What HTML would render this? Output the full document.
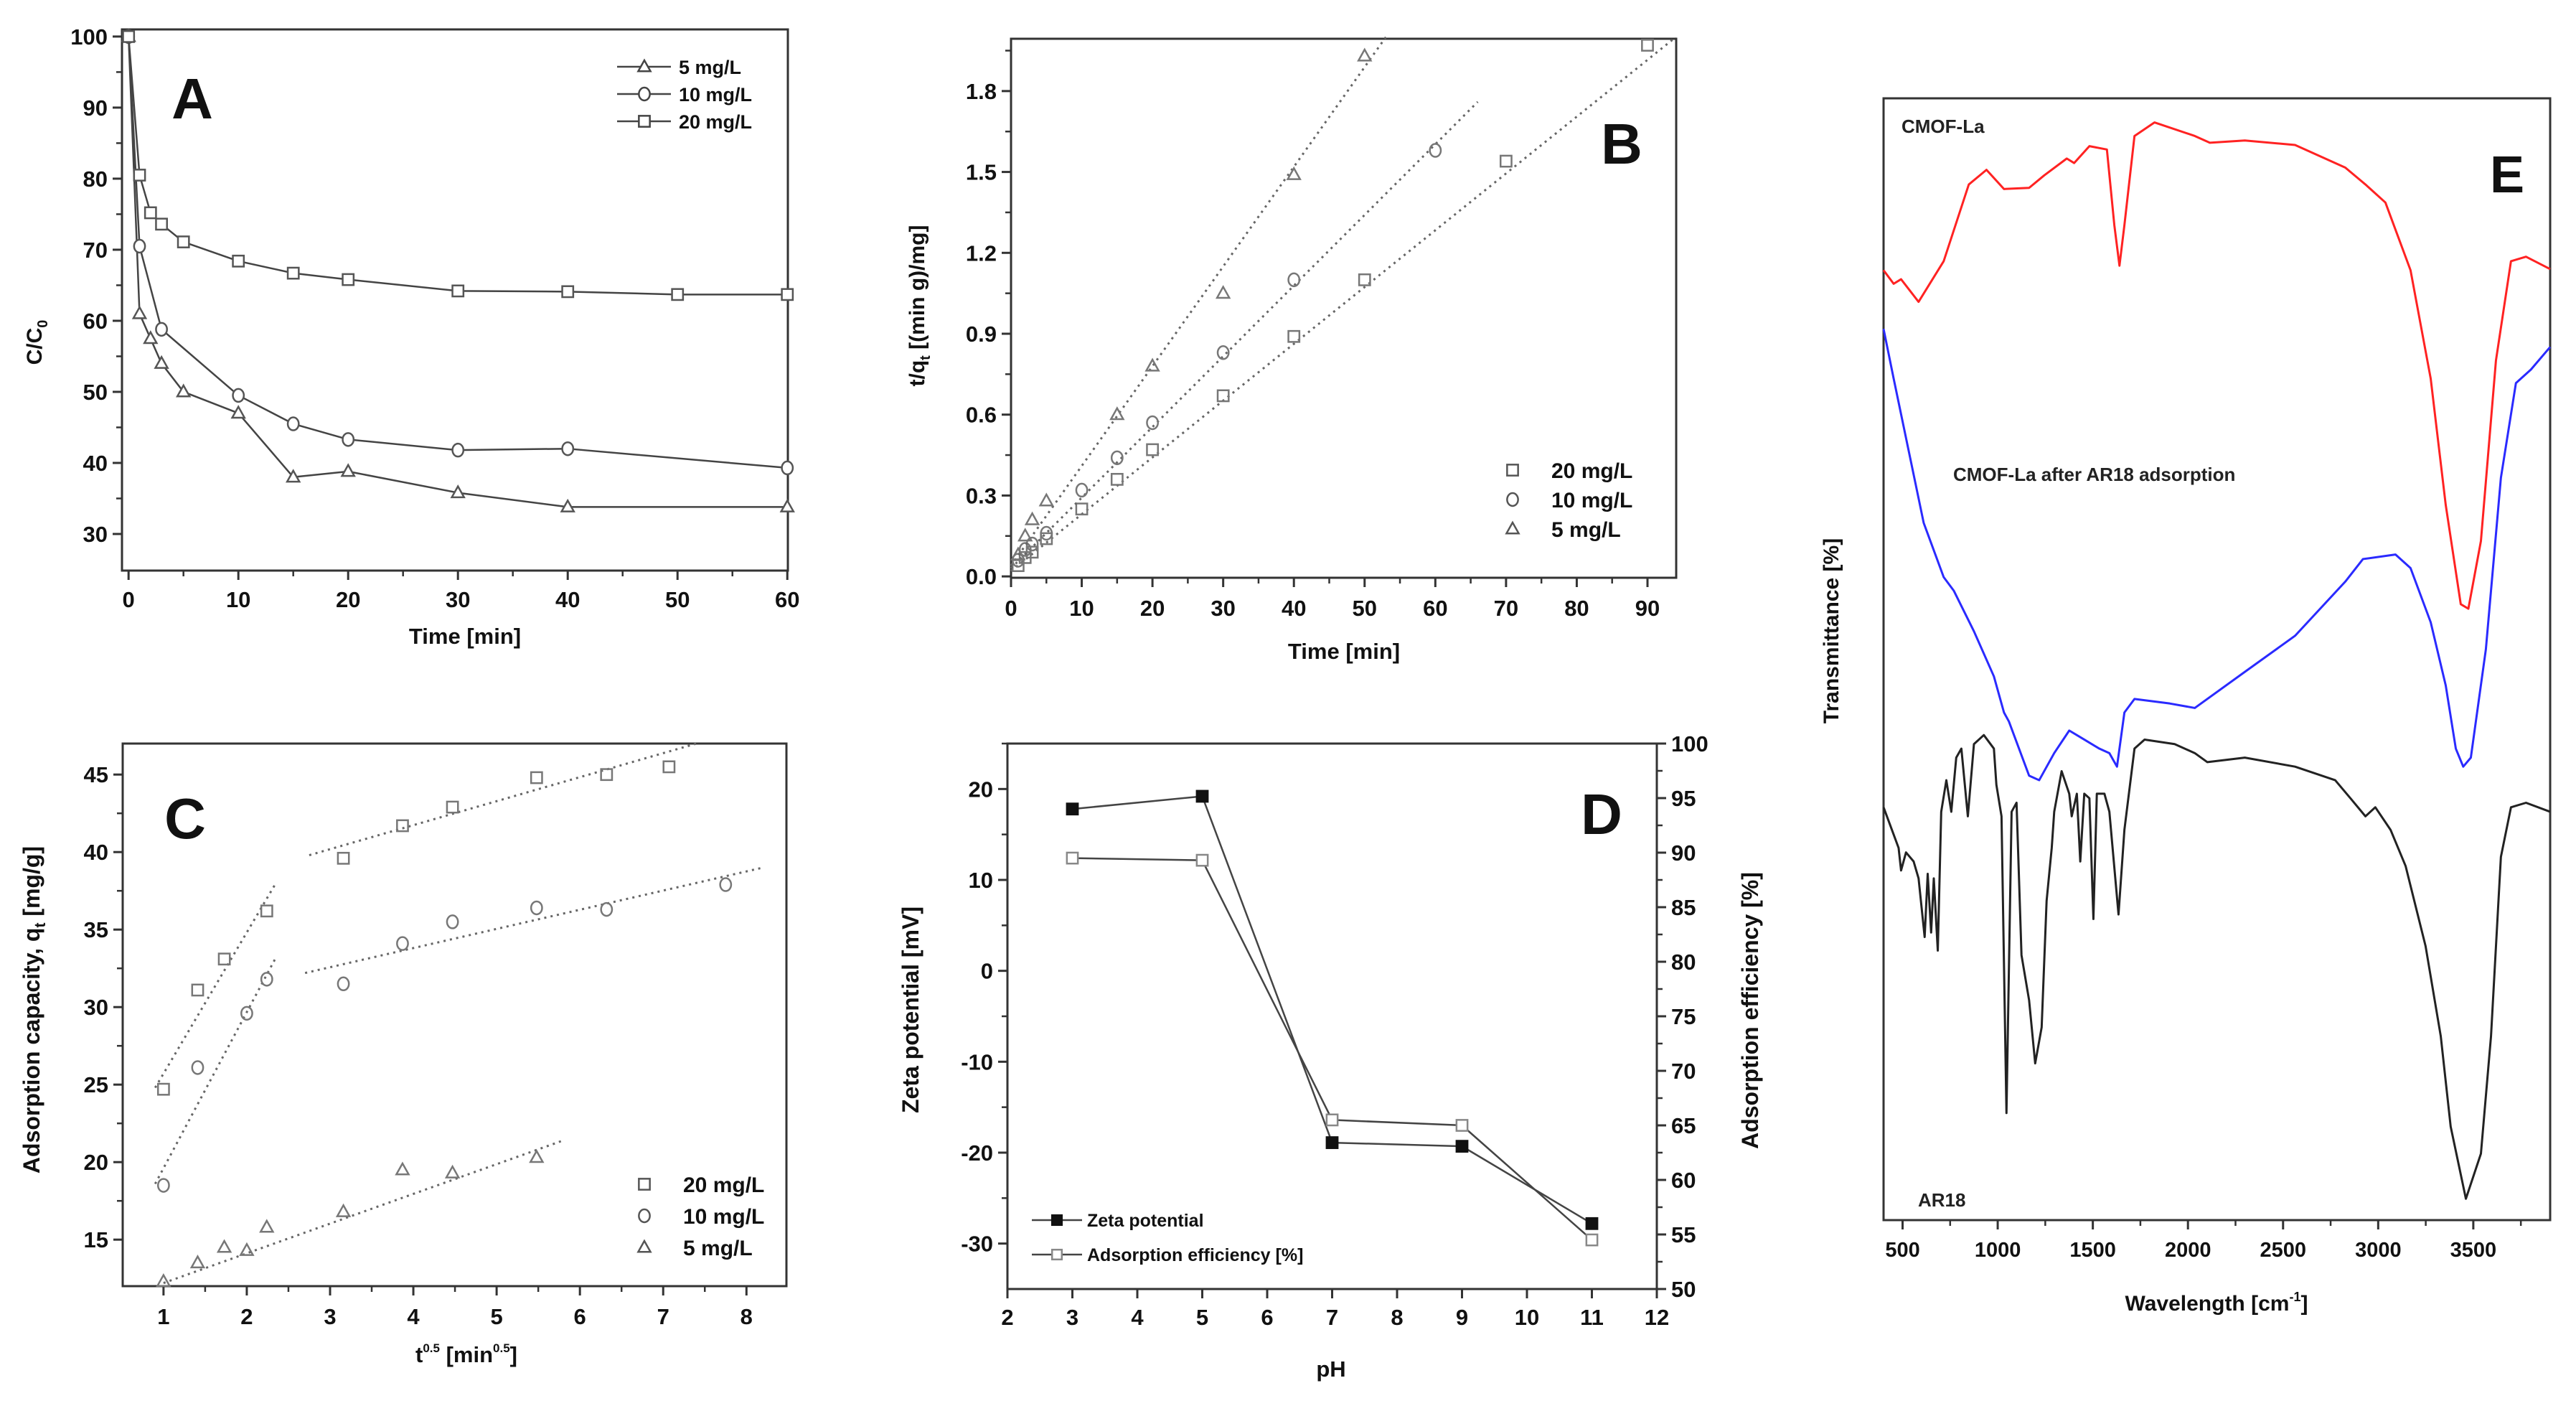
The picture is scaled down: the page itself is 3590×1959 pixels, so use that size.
<!DOCTYPE html>
<html><head><meta charset="utf-8"><style>
html,body{margin:0;padding:0;background:#fff;}
svg{display:block;font-family:"Liberation Sans",Arial,sans-serif;}
</style></head><body>
<svg id="fig" width="3590" height="1959" viewBox="0 0 3590 1959" xmlns="http://www.w3.org/2000/svg"></svg>
<script>
// ---------- Panel A data ----------
const aT5=[0,1,2,3,5,10,15,20,30,40,60];
const aY5=[100,61,57.5,54,50,47,38,38.8,35.8,33.8,33.8];
const aT10=[0,1,3,10,15,20,30,40,60];
const aY10=[100,70.5,58.8,49.5,45.5,43.3,41.8,42,39.3];
const aT20=[0,1,2,3,5,10,15,20,30,40,50,60];
const aY20=[100,80.5,75.2,73.6,71.1,68.4,66.7,65.8,64.2,64.1,63.7,63.7];
const aXTicks=[0,10,20,30,40,50,60];
const aYTicks=[30,40,50,60,70,80,90,100];
// ---------- Panel B data ----------
const bT5=[1,2,3,5,15,20,30,40,50];
const bY5=[0.08,0.15,0.21,0.28,0.60,0.78,1.05,1.49,1.93];
const bT10=[1,2,3,5,10,15,20,30,40,60];
const bY10=[0.06,0.10,0.12,0.16,0.32,0.44,0.57,0.83,1.10,1.58];
const bT20=[1,2,3,5,10,15,20,30,40,50,70,90];
const bY20=[0.04,0.07,0.09,0.14,0.25,0.36,0.47,0.67,0.89,1.10,1.54,1.97];
const bFit5=[[0,0.04],[53,2.0]];
const bFit10=[[0,0.03],[66,1.76]];
const bFit20=[[0,0.02],[94,2.0]];
const bXTicks=[0,10,20,30,40,50,60,70,80,90];
const bYTicks=[0,0.3,0.6,0.9,1.2,1.5,1.8];
// ---------- Panel C data ----------
const cX20=[1,1.41,1.73,2.24,3.16,3.87,4.47,5.48,6.32,7.07];
const cY20=[24.7,31.1,33.1,36.2,39.6,41.7,42.9,44.8,45.0,45.5];
const cX10=[1,1.41,2,2.24,3.16,3.87,4.47,5.48,6.32,7.75];
const cY10=[18.5,26.1,29.6,31.8,31.5,34.1,35.5,36.4,36.3,37.9];
const cX5=[1,1.41,1.73,2,2.24,3.16,3.87,4.47,5.48];
const cY5=[12.3,13.5,14.5,14.3,15.8,16.8,19.5,19.3,20.3];
const cFits=[[[0.9,24.8],[2.35,38]],[[2.75,39.8],[7.4,47]],[[0.9,18.6],[2.35,33.2]],[[2.7,32.2],[8.2,39]],[[1,12.2],[5.8,21.4]]];
const cXTicks=[1,2,3,4,5,6,7,8];
const cYTicks=[15,20,25,30,35,40,45];
// ---------- Panel D data ----------
const dPH=[3,5,7,9,11];
const dZeta=[17.8,19.2,-18.9,-19.3,-27.8];
const dEff=[89.5,89.3,65.5,65,54.5];
const dXTicks=[2,3,4,5,6,7,8,9,10,11,12];
const dYTicks=[-30,-20,-10,0,10,20];
const dRTicks=[50,55,60,65,70,75,80,85,90,95,100];
// ---------- Panel E data ----------
const eRedW=[400,453,492,584,716,848,941,1033,1165,1244,1363,1402,1482,1574,1613,1640,1666,1719,1824,2036,2115,2299,2563,2827,2933,3038,3170,3276,3355,3434,3474,3540,3619,3698,3777,3904];
const eRedT=[84.7,83.5,83.9,81.9,85.5,92.3,93.6,91.9,92.0,93.1,94.6,94.2,95.7,95.4,88.7,85.1,88.7,96.6,97.8,96.6,96.0,96.2,95.8,93.8,92.3,90.7,84.7,75.1,63.9,55.1,54.7,60.7,76.7,85.5,85.9,84.8];
const eBlueW=[400,453,532,611,716,769,875,980,1033,1059,1165,1218,1297,1376,1455,1534,1587,1627,1666,1719,1904,2036,2299,2563,2827,2920,3091,3170,3276,3355,3408,3447,3487,3566,3645,3724,3803,3904];
const eBlueT=[79.5,75.1,68.7,62.3,57.5,56.3,52.7,48.7,45.5,44.7,39.9,39.5,41.9,43.9,43.1,42.3,41.9,40.7,45.5,46.7,46.3,45.9,49.1,52.3,57.1,59.1,59.5,58.3,53.5,47.9,42.3,40.7,41.5,51.1,66.3,74.7,75.9,77.9];
const eBlackW=[400,479,492,518,558,584,616,632,650,664,685,703,730,756,782,809,843,875,927,980,993,1020,1046,1073,1099,1125,1165,1197,1231,1257,1284,1297,1336,1376,1389,1416,1434,1455,1482,1503,1521,1561,1587,1635,1666,1719,1772,1930,2036,2102,2299,2563,2774,2854,2933,2985,3065,3144,3249,3329,3381,3461,3540,3593,3645,3698,3777,3904];
const eBlackT=[37.1,33.5,31.5,33.1,32.3,30.8,25.6,31.2,26.0,30.8,24.4,36.7,39.5,36.7,41.5,42.3,36.3,42.7,43.5,42.3,39.1,36.3,10.0,36.7,37.5,24.0,20.0,14.4,17.6,28.8,33.5,36.7,40.3,38.3,36.3,38.3,32.3,38.3,37.9,27.2,38.3,38.3,36.7,27.6,35.1,42.3,43.1,42.7,41.9,41.1,41.5,40.7,39.5,37.9,36.3,37.1,35.1,31.9,24.8,16.8,8.8,2.4,6.4,16.8,32.7,37.1,37.5,36.7];
const eXTicks=[500,1000,1500,2000,2500,3000,3500];

const NS='http://www.w3.org/2000/svg';
const svg=document.getElementById('fig');
function el(tag,attrs,parent){const e=document.createElementNS(NS,tag);for(const k in attrs)e.setAttribute(k,attrs[k]);(parent||svg).appendChild(e);return e;}
function lin(d0,d1,r0,r1){return v=>r0+(v-d0)*(r1-r0)/(d1-d0);}
function txt(s,x,y,size,anchor,parent,extra){const t=el('text',Object.assign({x:x,y:y,'font-size':size,'font-weight':'bold','text-anchor':anchor||'middle',fill:'#111'},extra||{}),parent);t.textContent=s;return t;}
function box(g,x0,y0,x1,y1){const r=el('rect',{x:x0,y:y0,width:x1-x0,height:y1-y0,fill:'none',stroke:'#333','stroke-width':3},g);}
function xAxis(g,sx,yb,ticks,minorStep,fmt,size,lblY,xmax){
  const ax=el('g',{},g);
  ticks.forEach(v=>{el('line',{x1:sx(v),x2:sx(v),y1:yb,y2:yb+13,stroke:'#333','stroke-width':3},ax);
    const t=txt(fmt(v),sx(v),lblY,size,'middle',ax);
    if(minorStep){const m=v+minorStep;if(m<=xmax)el('line',{x1:sx(m),x2:sx(m),y1:yb,y2:yb+8,stroke:'#333','stroke-width':2.5},ax);}
  });
}
function yAxis(g,sy,xl,ticks,minorStep,fmt,size,right,dom){
  const ax=el('g',{},g);
  const dir=right?1:-1;
  ticks.forEach(v=>{el('line',{x1:xl,x2:xl+dir*13,y1:sy(v),y2:sy(v),stroke:'#333','stroke-width':3},ax);
    const t=txt(fmt(v),xl+dir*20,sy(v)+11,size,right?'start':'end',ax);
    if(minorStep){const m=v+minorStep;if(m<=dom[1])el('line',{x1:xl,x2:xl+dir*8,y1:sy(m),y2:sy(m),stroke:'#333','stroke-width':2.5},ax);}
  });
}
function marker(g,type,x,y,s,fill,stroke){
  let m;
  if(type==='tri')m=el('polygon',{points:`${x},${y-s} ${x-s*0.95},${y+s*0.7} ${x+s*0.95},${y+s*0.7}`,fill:fill,stroke:stroke,'stroke-width':2.5},g);
  else if(type==='circ')m=el('ellipse',{cx:x,cy:y,rx:s*0.85,ry:s,fill:fill,stroke:stroke,'stroke-width':2.5},g);
  else m=el('rect',{x:x-s*0.85,y:y-s*0.85,width:s*1.7,height:s*1.7,fill:fill,stroke:stroke,'stroke-width':2.5},g);
  return m;
}
function poly(g,xs,ys,sx,sy,stroke,w,dash){return el('polyline',{points:xs.map((v,i)=>sx(v)+','+sy(ys[i])).join(' '),fill:'none',stroke:stroke,'stroke-width':w,'stroke-dasharray':dash||'none','stroke-linejoin':'round'},g);}
function rotLabel(g,s,x,y,size,name){const t=txt(s,x,y,size,'middle',g,{transform:`rotate(-90 ${x} ${y})`});return t;}

// ================= Panel A =================
(function(){
 const g=el('g',{});
 const X0=170,X1=1098,Y0=41,Y1=795;
 const sx=lin(-0.6,60.05,X0,X1), sy=lin(24.85,101,Y1,Y0);
 box(g,X0,Y0,X1,Y1);
 xAxis(g,sx,Y1,aXTicks,5,v=>String(v),31,846,60.05);
 yAxis(g,sy,X0,aYTicks,5,v=>String(v),31,false,[24.85,101]);
 const yl=el('text',{x:58,y:477,'font-size':30,'font-weight':'bold','text-anchor':'middle',fill:'#111',transform:'rotate(-90 58 477)'},g);
 yl.innerHTML='C/C<tspan font-size="20" dy="8">0</tspan>';
 
 const xt=txt('Time [min]',648,897,31,'middle',g);
 const pl=txt('A',268,165,80,'middle',g,{'font-weight':'900'});
 const series=[[aT5,aY5,'tri','5 mg/L'],[aT10,aY10,'circ','10 mg/L'],[aT20,aY20,'sq','20 mg/L']];
 series.forEach((s,k)=>{
  const sg=el('g',{},g);
  poly(sg,s[0],s[1],sx,sy,'#444',2.5);
  s[0].forEach((t,i)=>{const m=marker(sg,s[2],sx(t),sy(s[1][i]),9,'#fff','#555');});
 });
 const lg=el('g',{},g);
 [['tri','5 mg/L'],['circ','10 mg/L'],['sq','20 mg/L']].forEach((e,i)=>{
  const y=93+i*38;
  el('line',{x1:860,x2:935,y1:y,y2:y,stroke:'#444','stroke-width':2.5},lg);
  marker(lg,e[0],898,y,9,'#fff','#444');
  const t=txt(e[1],946,y+10,27,'start',lg);
 });
})();

// ================= Panel B =================
(function(){
 const g=el('g',{});
 const X0=1409,X1=2336,Y0=54,Y1=805;
 const sx=lin(0,94.06,X0,X1), sy=lin(-0.005,1.994,Y1,Y0);
 box(g,X0,Y0,X1,Y1);
 xAxis(g,sx,Y1,bXTicks,5,v=>String(v),31,858,94.06);
 yAxis(g,sy,X0,bYTicks,0.15,v=>v.toFixed(1),31,false,[0,1.994]);
 const yl=el('text',{x:1288,y:426,'font-size':30,'font-weight':'bold','text-anchor':'middle',fill:'#111',transform:'rotate(-90 1288 426)'},g);
 yl.innerHTML='t/q<tspan font-size="20" dy="8">t</tspan><tspan dy="-8"> [(min g)/mg]</tspan>';
 
 const xt=txt('Time [min]',1873,918,31,'middle',g);
 const pl=txt('B',2260,228,80,'middle',g,{'font-weight':'900'});
 const series=[[bT20,bY20,'sq',bFit20,'20 mg/L'],[bT10,bY10,'circ',bFit10,'10 mg/L'],[bT5,bY5,'tri',bFit5,'5 mg/L']];
 series.forEach(s=>{
  const sg=el('g',{},g);
  const f=poly(sg,[s[3][0][0],s[3][1][0]],[s[3][0][1],s[3][1][1]],sx,sy,'#666',3,'3 6');
  s[0].forEach((t,i)=>{const m=marker(sg,s[2],sx(t),sy(s[1][i]),9,'none','#777');});
 });
 const lg=el('g',{},g);
 [['sq','20 mg/L'],['circ','10 mg/L'],['tri','5 mg/L']].forEach((e,i)=>{
  const y=655+i*41;
  marker(lg,e[0],2108,y,9,'none','#555');
  const t=txt(e[1],2162,y+11,30,'start',lg);
 });
})();

// ================= Panel C =================
(function(){
 const g=el('g',{});
 const X0=171,X1=1096,Y0=1036,Y1=1792;
 const sx=lin(0.51,8.48,X0,X1), sy=lin(12,47,Y1,Y0);
 box(g,X0,Y0,X1,Y1);
 xAxis(g,sx,Y1,cXTicks,0.5,v=>String(v),31,1845,8.48);
 yAxis(g,sy,X0,cYTicks,2.5,v=>String(v),31,false,[12,47]);
 const yl=el('text',{x:55,y:1407,'font-size':32,'font-weight':'bold','text-anchor':'middle',fill:'#111',transform:'rotate(-90 55 1407)'},g);
 yl.innerHTML='Adsorption capacity, q<tspan font-size="21" dy="8">t</tspan><tspan dy="-8"> [mg/g]</tspan>';
 
 const xt=el('text',{x:650,y:1898,'font-size':31,'font-weight':'bold','text-anchor':'middle',fill:'#111'},g);
 xt.innerHTML='t<tspan font-size="17" dy="-14">0.5</tspan><tspan dy="14"> [min</tspan><tspan font-size="17" dy="-14">0.5</tspan><tspan dy="14">]</tspan>';
 
 const pl=txt('C',258,1168,80,'middle',g,{'font-weight':'900'});
 cFits.forEach(f=>{const l=poly(g,[f[0][0],f[1][0]],[f[0][1],f[1][1]],sx,sy,'#666',3,'3 6');});
 [[cX20,cY20,'sq','20'],[cX10,cY10,'circ','10'],[cX5,cY5,'tri','5']].forEach(s=>{
  const sg=el('g',{},g);
  s[0].forEach((t,i)=>{const m=marker(sg,s[2],sx(t),sy(s[1][i]),9,'none','#777');});
 });
 const lg=el('g',{},g);
 [['sq','20 mg/L'],['circ','10 mg/L'],['tri','5 mg/L']].forEach((e,i)=>{
  const y=1650+i*44;
  marker(lg,e[0],898,y,9,'none','#555');
  const t=txt(e[1],952,y+11,30,'start',lg);
 });
})();

// ================= Panel D =================
(function(){
 const g=el('g',{});
 const X0=1404,X1=2309,Y0=1036,Y1=1796;
 const sx=lin(2,12,X0,X1), sy=lin(-35,25,Y1,Y0), sr=lin(50,100,Y1,Y0);
 box(g,X0,Y0,X1,Y1);
 xAxis(g,sx,Y1,dXTicks,0,v=>String(v),31,1846,12);
 yAxis(g,sy,X0,dYTicks,5,v=>String(v),31,false,[-35,25]);
 yAxis(g,sr,X1,dRTicks,2.5,v=>String(v),31,true,[50,100]);
 rotLabel(g,'Zeta potential [mV]',1280,1407,32,'y-axis-title');
 rotLabel(g,'Adsorption efficiency [%]',2450,1408,32,'y-axis-title-right');
 const xt=txt('pH',1855,1918,31,'middle',g);
 const pl=txt('D',2232,1162,80,'middle',g,{'font-weight':'900'});
 const s1=el('g',{},g);
 poly(s1,dPH,dZeta,sx,sy,'#444',2.5);
 dPH.forEach((p,i)=>{const m=marker(s1,'sq',sx(p),sy(dZeta[i]),9,'#111','#111');});
 const s2=el('g',{},g);
 poly(s2,dPH,dEff,sx,sr,'#444',2.5);
 dPH.forEach((p,i)=>{const m=marker(s2,'sq',sx(p),sr(dEff[i]),9,'#fff','#888');});
 const lg=el('g',{},g);
 [['#111','#111','Zeta potential'],['#fff','#888','Adsorption efficiency [%]']].forEach((e,i)=>{
  const y=1700+i*48;
  el('line',{x1:1438,x2:1508,y1:y,y2:y,stroke:'#444','stroke-width':2.5},lg);
  marker(lg,'sq',1473,y,8,e[0],e[1]);
  const t=txt(e[2],1515,y+9,25,'start',lg);
 });
})();

// ================= Panel E =================
(function(){
 const g=el('g',{});
 const X0=2625,X1=3554,Y0=137,Y1=1700;
 const sx=lin(400,3904,X0,X1), sy=lin(0,100,1708,136);
 box(g,X0,Y0,X1,Y1);
 xAxis(g,sx,Y1,eXTicks,250,v=>String(v),29,1751,3904);
 rotLabel(g,'Transmittance [%]',2562,879,30,'y-axis-title');
 const xt=el('text',{x:3089,y:1826,'font-size':30,'font-weight':'bold','text-anchor':'middle',fill:'#111'},g);
 xt.innerHTML='Wavelength [cm<tspan font-size="18" dy="-13">-1</tspan><tspan dy="13">]</tspan>';
 
 const pl=txt('E',3494,268,72,'middle',g,{'font-weight':'900'});
 const r=poly(g,eRedW,eRedT,sx,sy,'#ff2222',3);
 const b=poly(g,eBlueW,eBlueT,sx,sy,'#2a2aff',3);
 const k=poly(g,eBlackW,eBlackT,sx,sy,'#222',3);
 const l1=txt('CMOF-La',2650,185,26,'start',g,{fill:'#222'});
 const l2=txt('CMOF-La after AR18 adsorption',2722,670,26,'start',g,{fill:'#222'});
 const l3=txt('AR18',2673,1681,26,'start',g,{fill:'#222'});
})();
</script>
</body></html>
